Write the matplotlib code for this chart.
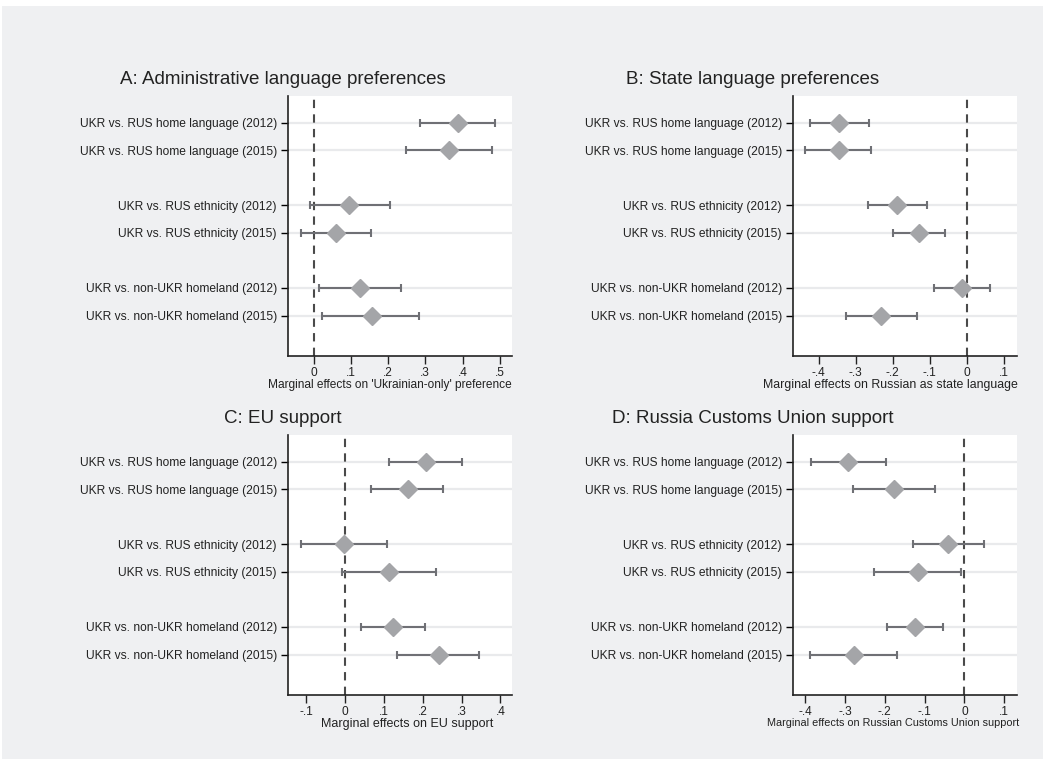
import numpy as np
import matplotlib
matplotlib.use("Agg")
import matplotlib.pyplot as plt
from matplotlib.ticker import FuncFormatter
from matplotlib.patches import Rectangle

plt.rcParams["font.family"] = ["Liberation Sans", "DejaVu Sans"]

ROWS = ["UKR vs. RUS home language (2012)", "UKR vs. RUS home language (2015)",
        "UKR vs. RUS ethnicity (2012)", "UKR vs. RUS ethnicity (2015)",
        "UKR vs. non-UKR homeland (2012)", "UKR vs. non-UKR homeland (2015)"]
ROW_POS = [1, 2, 4, 5, 7, 8]

# panel A: administrative language
a_est = [0.388, 0.364, 0.095, 0.059, 0.124, 0.156]
a_lo = [0.286, 0.247, -0.011, -0.035, 0.014, 0.023]
a_hi = [0.488, 0.480, 0.205, 0.153, 0.236, 0.282]

# panel B: state language
b_est = [-0.344, -0.346, -0.188, -0.129, -0.014, -0.231]
b_lo = [-0.424, -0.436, -0.267, -0.199, -0.090, -0.327]
b_hi = [-0.265, -0.259, -0.108, -0.060, 0.061, -0.135]

# panel C: EU support
c_est = [0.208, 0.161, -0.003, 0.112, 0.124, 0.242]
c_lo = [0.114, 0.068, -0.114, -0.009, 0.042, 0.135]
c_hi = [0.301, 0.252, 0.107, 0.234, 0.206, 0.346]

# panel D: customs union support
d_est = [-0.293, -0.177, -0.041, -0.117, -0.123, -0.278]
d_lo = [-0.385, -0.280, -0.129, -0.226, -0.194, -0.389]
d_hi = [-0.197, -0.074, 0.049, -0.008, -0.054, -0.169]

PANELS = [
    ("A: Administrative language preferences", "Marginal effects on 'Ukrainian-only' preference",
     a_est, a_lo, a_hi, [0, .1, .2, .3, .4, .5], (-0.069, 0.533)),
    ("B: State language preferences", "Marginal effects on Russian as state language",
     b_est, b_lo, b_hi, [-.4, -.3, -.2, -.1, 0, .1], (-0.469, 0.135)),
    ("C: EU support", "Marginal effects on EU support",
     c_est, c_lo, c_hi, [-.1, 0, .1, .2, .3, .4], (-0.147, 0.430)),
    ("D: Russia Customs Union support", "Marginal effects on Russian Customs Union support",
     d_est, d_lo, d_hi, [-.4, -.3, -.2, -.1, 0, .1], (-0.431, 0.1325)),
]

BG = "#eff0f2"
W, H = 1043, 759


def stata_fmt(v, _):
    if abs(v) < 1e-9:
        return "0"
    return f"{v:.1f}".replace("0.", ".")


fig = plt.figure(figsize=(W / 100, H / 100), dpi=100, facecolor="white")
fig.patches.append(Rectangle((2 / W, 0), 1, 1 - 6 / H, transform=fig.transFigure,
                             facecolor=BG, edgecolor="none", zorder=-10))

lefts = [288, 793, 288, 793]
tops = [96, 96, 435, 435]
title_x = [283, 753, 283, 753]
# stata squeezes the axis titles to fit inside the plot width
xlab_x = [0.455, 0.433, 0.531, 0.446]
xlab_size = [8.6, 8.9, 9.0, 7.8]
for i, (title, xlab, est, lo, hi, ticks, xlim) in enumerate(PANELS):
    ax = fig.add_axes([lefts[i] / W, 1 - (tops[i] + 260) / H, 224 / W, 260 / H])
    ax.set_facecolor("white")
    for y in ROW_POS:
        ax.axhline(y, color="#e9eaec", lw=1.6, zorder=0)
    ax.axvline(0, color="#4a4a4a", lw=1.5, ls=(0, (4, 3)), zorder=1)
    est = np.array(est); lo = np.array(lo); hi = np.array(hi)
    ax.errorbar(est, ROW_POS, xerr=[est - lo, hi - est], fmt="none", ecolor="#6f7075",
                elinewidth=1.5, capsize=3, capthick=1.5, zorder=2)
    ax.plot(est, ROW_POS, "D", color="#a4a5a8", ms=9.5, mec="#a4a5a8", zorder=3)
    ax.set_xlim(*xlim)
    ax.set_ylim(9.47, 0.03)
    ax.set_yticks(ROW_POS)
    ax.set_yticklabels(ROWS, fontsize=8.65, color="#222222")
    ax.set_xticks(ticks)
    ax.xaxis.set_major_formatter(FuncFormatter(stata_fmt))
    ax.tick_params(axis="x", labelsize=8.6, length=6, width=1, colors="#222222", pad=2)
    ax.tick_params(axis="y", length=5, width=1, pad=3)
    ax.set_xlabel(xlab, fontsize=xlab_size[i], labelpad=0, color="#222222")
    ax.xaxis.label.set_x(xlab_x[i])
    for s in ["top", "right"]:
        ax.spines[s].set_visible(False)
    for s in ["left", "bottom"]:
        ax.spines[s].set_linewidth(1.2)
        ax.spines[s].set_color("#222222")
    fig.text(title_x[i] / W, 1 - (tops[i] - 16) / H, title, ha="center", va="center",
             fontsize=13.5, color="#222222")

fig.savefig("out.png", dpi=100, facecolor="white")
